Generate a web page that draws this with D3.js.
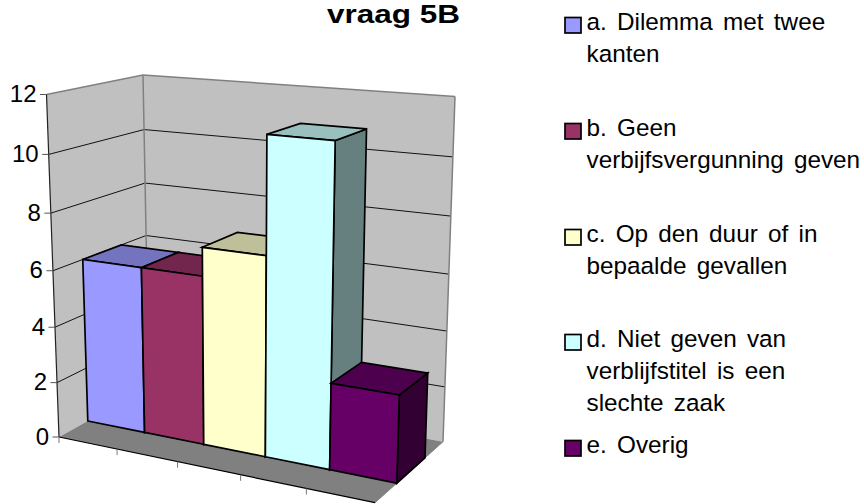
<!DOCTYPE html>
<html>
<head>
<meta charset="utf-8">
<title>vraag 5B</title>
<style>
	html, body { margin: 0; padding: 0; background: #fff; }
	svg { display: block; }
	text { font-family: "Liberation Sans", Arial, sans-serif; fill: #000; }
</style>
</head>
<body>
<script src="https://cdn.jsdelivr.net/npm/d3@7/dist/d3.min.js"></script>
<script>
// data
var categories = ["a", "b", "c", "d", "e"];
var values = [6, 6, 7, 11, 3];
var yTicks = [0, 2, 4, 6, 8, 10, 12];
var fillColors = ["#9999FF", "#993366", "#FFFFCC", "#CCFFFF", "#660066"];
var legendLines = [
	["a. Dilemma met twee", "kanten"],
	["b. Geen", "verbijfsvergunning geven"],
	["c. Op den duur of in", "bepaalde gevallen"],
	["d. Niet geven van", "verblijfstitel is een", "slechte zaak"],
	["e. Overig"]
];
var title = "vraag 5B";

var width = 864,
	height = 504;

var svg = d3.select("body").append("svg")
	.attr("width", width)
	.attr("height", height);

// corners of the 3d box on screen: f/b = front/back, l/r = left/right, 0/1 = floor/top
var box = {
	fl0: [59, 437], fl1: [46.5, 94.5],
	fr0: [375, 502.7], fr1: [385, 123],
	bl0: [149, 387], bl1: [143, 75],
	br0: [443, 441.7], br1: [455, 96.5]
};

var xScale = d3.scaleLinear().domain([0, categories.length]).range([0, 1]);
var yScale = d3.scaleLinear().domain([0, 12]).range([0, 1]);
var barFront = 0.32, barBack = 0.735;

// perspective: equal steps get longer towards the viewer
function warp(u, k) {
	return u / (u + k * (1 - u));
}
function mix(a, b, t) {
	return [a[0] + (b[0] - a[0]) * t, a[1] + (b[1] - a[1]) * t];
}
// xv = category position, v = value, z = 0 front .. 1 back
function project(xv, v, z) {
	var u = warp(xScale(xv), 1.11),
		t = warp(yScale(v), 1.06);
	var front = mix(mix(box.fl0, box.fr0, u), mix(box.fl1, box.fr1, u), t);
	var back = mix(mix(box.bl0, box.br0, u), mix(box.bl1, box.br1, u), t);
	return mix(front, back, z);
}

var line = d3.line();
function poly(g, pts, fill, stroke, sw) {
	return g.append("path")
		.attr("d", line(pts) + "Z")
		.attr("fill", fill)
		.attr("stroke", stroke)
		.attr("stroke-width", sw)
		.attr("stroke-linejoin", "miter");
}
function seg(g, a, b, stroke, sw) {
	return g.append("path")
		.attr("d", line([a, b]))
		.attr("fill", "none")
		.attr("stroke", stroke)
		.attr("stroke-width", sw);
}

var n = categories.length;
var walls = svg.append("g");

// walls and floor
poly(walls, [project(0, 0, 0), project(0, 12, 0), project(0, 12, 1), project(0, 0, 1)], "#C0C0C0", "none", 0);
poly(walls, [project(0, 0, 1), project(0, 12, 1), project(n, 12, 1), project(n, 0, 1)], "#C0C0C0", "none", 0);
poly(walls, [project(0, 0, 0), project(0, 0, 1), project(n, 0, 1), project(n, 0, 0)], "#808080", "none", 0);

// gridlines
yTicks.forEach(function(d) {
	if (d === 0 || d === 12) return;
	seg(walls, project(0, d, 0), project(0, d, 1), "#111", 1);
	seg(walls, project(0, d, 1), project(n, d, 1), "#111", 1);
});

// wall edges
seg(walls, project(0, 12, 0), project(0, 12, 1), "#808080", 1.5);
seg(walls, project(0, 12, 1), project(n, 12, 1), "#808080", 1.5);
seg(walls, project(0, 12, 1), project(0, 0, 1), "#808080", 1.5);
seg(walls, project(n, 12, 1), project(n, 0, 1), "#808080", 1.5);
seg(walls, project(n, 0, 1), project(n, 0, 0), "#808080", 1);
seg(walls, project(0, 0, 0), project(0, 12, 0), "#222", 1.2);
seg(walls, project(0, 0, 0), project(n, 0, 0), "#000", 1.2);

// y axis ticks and labels
yTicks.forEach(function(d) {
	var p = project(0, d, 0);
	seg(walls, [p[0] - 6.5, p[1]], p, "#555", 1);
	walls.append("text")
		.attr("x", p[0] - 10)
		.attr("y", p[1] + 7.5)
		.attr("text-anchor", "end")
		.style("font-size", "24px")
		.text(d);
});

// x axis ticks
d3.range(1, n).forEach(function(i) {
	var p = project(i, 0, 0);
	seg(walls, p, [p[0], p[1] + 6], "#777", 1);
});
seg(walls, project(0, 0, 0), [project(0, 0, 0)[0], project(0, 0, 0)[1] + 6], "#777", 1);

// bars, painted left to right
var bars = svg.append("g");
values.forEach(function(v, i) {
	var c = d3.color(fillColors[i]);
	var topColor = d3.rgb(c.r * 0.75, c.g * 0.75, c.b * 0.75);
	var sideColor = d3.rgb(c.r * 0.5, c.g * 0.5, c.b * 0.5);
	// right side
	poly(bars, [project(i + 1, 0, barFront), project(i + 1, v, barFront), project(i + 1, v, barBack), project(i + 1, 0, barBack)], sideColor, "#000", 1.7);
	// top
	poly(bars, [project(i, v, barFront), project(i + 1, v, barFront), project(i + 1, v, barBack), project(i, v, barBack)], topColor, "#000", 1.7);
	// front
	poly(bars, [project(i, 0, barFront), project(i + 1, 0, barFront), project(i + 1, v, barFront), project(i, v, barFront)], fillColors[i], "#000", 1.7);
});

// title
svg.append("text")
	.attr("x", 327)
	.attr("y", 23)
	.attr("textLength", 133)
	.attr("lengthAdjust", "spacingAndGlyphs")
	.style("font-size", "25px")
	.style("font-weight", "bold")
	.text(title);

// legend
var legendBase = [30, 136, 242, 347, 453];
var legendFont = 24.3, legendStep = 31.8;
var legend = svg.append("g");
legendLines.forEach(function(lines, i) {
	legend.append("rect")
		.attr("x", 565)
		.attr("y", legendBase[i] - 12.5)
		.attr("width", 16)
		.attr("height", 15.5)
		.attr("fill", fillColors[i])
		.attr("stroke", "#000")
		.attr("stroke-width", 1.7);
	lines.forEach(function(t, j) {
		legend.append("text")
			.attr("x", 586.5)
			.attr("y", legendBase[i] + j * legendStep)
			.style("font-size", legendFont + "px")
			.style("word-spacing", "3.5px")
			.text(t);
	});
});
</script>
</body>
</html>
